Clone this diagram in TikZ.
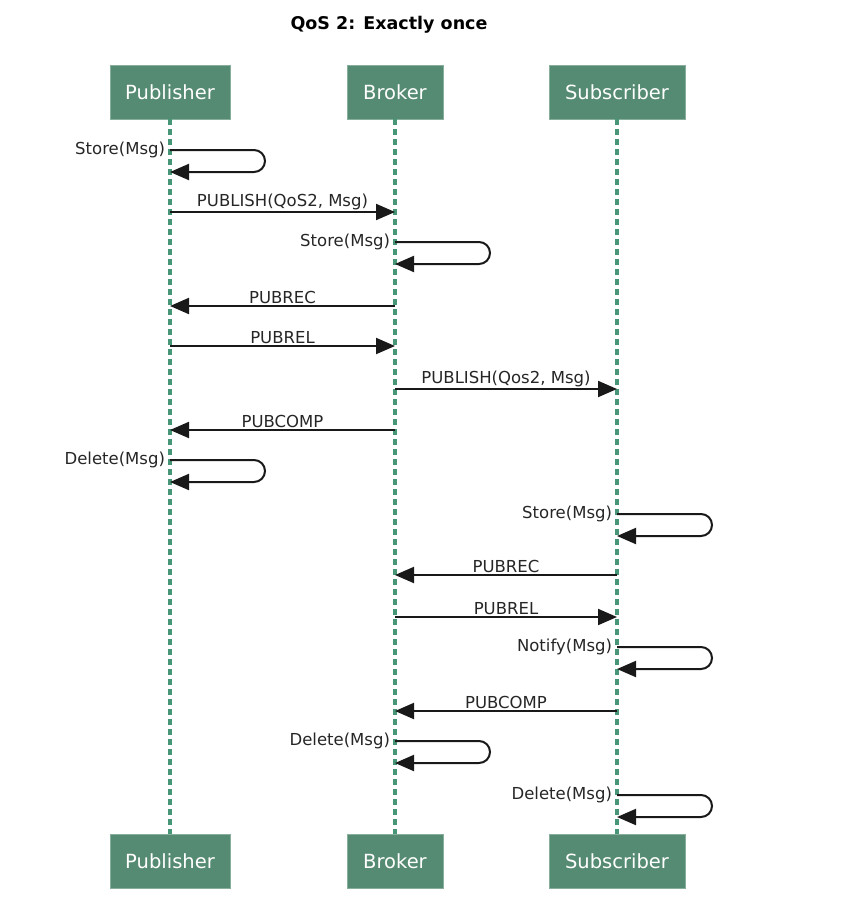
\documentclass[tikz,border=0pt]{standalone}
\usepackage{fontspec}
\setmainfont{DejaVu Sans}
\usetikzlibrary{arrows.meta}
\definecolor{actorgreen}{RGB}{85,139,114}
\definecolor{lifegreen}{RGB}{72,150,120}
\tikzset{
  actor/.style={draw=actorgreen!70!white, line width=0.8pt, fill=actorgreen, text=white,
    minimum height=54pt, font=\fontsize{19.5}{22}\selectfont},
  life/.style={lifegreen, line width=3.8pt, dash pattern=on 6pt off 4pt},
  msg/.style={line width=2pt, black!90, -{Triangle[length=19pt,width=16pt]}},
  lbl/.style={font=\fontsize{16.5}{19}\selectfont, text=black!85, inner sep=1pt},
  selfloop/.style={msg, rounded corners=11pt}
}
\begin{document}
\begin{tikzpicture}[x=1pt, y=-1pt]
        \useasboundingbox (0,0) rectangle (859,905);

        % Title
        \node[font=\bfseries\fontsize{17.5}{20}\selectfont] (title) at (389,25) {QoS 2: Exactly once};

        % Actors on top
        \node[actor, minimum width=120pt] (pubT) at (170,92) {Publisher};
        \node[actor, minimum width=96pt] (broT) at (395,92) {Broker};
        \node[actor, minimum width=136pt] (subT) at (617,92) {Subscriber};

        % Actors at the bottom
        \node[actor, minimum width=120pt] (pubB) at (170,861) {Publisher};
        \node[actor, minimum width=96pt] (broB) at (395,861) {Broker};
        \node[actor, minimum width=136pt] (subB) at (617,861) {Subscriber};

        % Lifelines
        \draw[life] (pubT) -- (pubB);
        \draw[life] (broT) -- (broB);
        \draw[life] (subT) -- (subB);

        % Publisher stores the message
        \draw[selfloop] (pubT |- 0,150) node[lbl, anchor=east, inner sep=4pt] {Store(Msg)} -- ++(95,0) -- ++(0,22) -- (pubT |- 0,172);

        % Publisher to broker
        \draw[msg] (pubT |- 0,212) -- (broT |- 0,212) node[lbl, midway, above] {PUBLISH(QoS2, Msg)};
        \draw[selfloop] (broT |- 0,242) node[lbl, anchor=east, inner sep=4pt] {Store(Msg)} -- ++(95,0) -- ++(0,22) -- (broT |- 0,264);
        \draw[msg] (broT |- 0,306) -- (pubT |- 0,306) node[lbl, midway, above] {PUBREC};
        \draw[msg] (pubT |- 0,346) -- (broT |- 0,346) node[lbl, midway, above] {PUBREL};

        % Broker to subscriber
        \draw[msg] (broT |- 0,389) -- (subT |- 0,389) node[lbl, midway, above] {PUBLISH(Qos2, Msg)};
        \draw[msg] (broT |- 0,430) -- (pubT |- 0,430) node[lbl, midway, above] {PUBCOMP};
        \draw[selfloop] (pubT |- 0,460) node[lbl, anchor=east, inner sep=4pt] {Delete(Msg)} -- ++(95,0) -- ++(0,22) -- (pubT |- 0,482);

        % Subscriber side
        \draw[selfloop] (subT |- 0,514) node[lbl, anchor=east, inner sep=4pt] {Store(Msg)} -- ++(95,0) -- ++(0,22) -- (subT |- 0,536);
        \draw[msg] (subT |- 0,575) -- (broT |- 0,575) node[lbl, midway, above] {PUBREC};
        \draw[msg] (broT |- 0,617) -- (subT |- 0,617) node[lbl, midway, above] {PUBREL};
        \draw[selfloop] (subT |- 0,647) node[lbl, anchor=east, inner sep=4pt] {Notify(Msg)} -- ++(95,0) -- ++(0,22) -- (subT |- 0,669);
        \draw[msg] (subT |- 0,711) -- (broT |- 0,711) node[lbl, midway, above] {PUBCOMP};
        \draw[selfloop] (broT |- 0,741) node[lbl, anchor=east, inner sep=4pt] {Delete(Msg)} -- ++(95,0) -- ++(0,22) -- (broT |- 0,763);
        \draw[selfloop] (subT |- 0,795) node[lbl, anchor=east, inner sep=4pt] {Delete(Msg)} -- ++(95,0) -- ++(0,22) -- (subT |- 0,817);
    \end{tikzpicture}
\end{document}
